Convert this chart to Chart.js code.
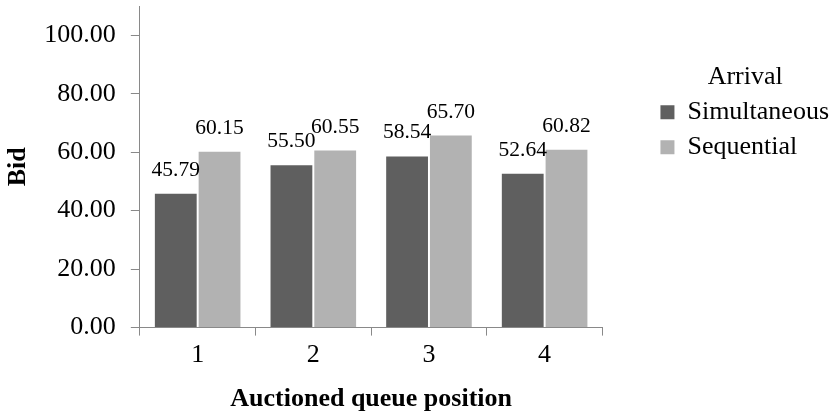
<!DOCTYPE html>
<html>
<head>
<meta charset="utf-8">
<script src="https://cdn.jsdelivr.net/npm/chart.js@4/dist/chart.umd.min.js"></script>
<style>
  html, body { margin: 0; padding: 0; background: #fff; }
  #chart { display: block; }
</style>
</head>
<body>
<canvas id="chart" width="839" height="416"></canvas>
<script>
// Data
const positions = ['1', '2', '3', '4'];
const simultaneous = [45.79, 55.50, 58.54, 52.64];
const sequential = [60.15, 60.55, 65.70, 60.82];
const yTickValues = [0, 20, 40, 60, 80, 100];
const yMax = 110;

const axisColor = '#898989';
const serif = "'Liberation Serif', 'Times New Roman', serif";

Chart.defaults.font.family = serif;
Chart.defaults.color = '#000';

// Value labels above the bars
const barLabels = {
  id: 'barLabels',
  afterDatasetsDraw(chart) {
    const ctx = chart.ctx;
    ctx.save();
    ctx.font = '21.5px ' + serif;
    ctx.fillStyle = '#000';
    ctx.textAlign = 'center';
    ctx.textBaseline = 'alphabetic';
    chart.data.datasets.forEach((ds, i) => {
      chart.getDatasetMeta(i).data.forEach((bar, j) => {
        ctx.fillText(ds.data[j].toFixed(2), bar.x, bar.y - 18);
      });
    });
    ctx.restore();
  }
};

new Chart(document.getElementById('chart'), {
  type: 'bar',
  data: {
    labels: positions,
    datasets: [
      {
        label: 'Simultaneous',
        data: simultaneous,
        backgroundColor: '#5f5f5f',
        categoryPercentage: 0.757,
        barPercentage: 0.955
      },
      {
        label: 'Sequential',
        data: sequential,
        backgroundColor: '#b2b2b2',
        categoryPercentage: 0.757,
        barPercentage: 0.955
      }
    ]
  },
  options: {
    responsive: false,
    animation: false,
    layout: { padding: { top: 6, left: 0, right: 0, bottom: 1 } },
    plugins: {
      tooltip: { enabled: false },
      legend: {
        position: 'right',
        align: 'start',
        maxWidth: 200,
        title: {
          display: true,
          text: 'Arrival',
          font: { size: 26 },
          padding: { top: 58, bottom: -5 }
        },
        labels: {
          boxWidth: 14,
          boxHeight: 14,
          padding: 9,
          font: { size: 26 }
        }
      }
    },
    scales: {
      x: {
        grid: { drawOnChartArea: false, offset: true, tickLength: 8, color: axisColor },
        border: { color: axisColor },
        ticks: { padding: 4, font: { size: 26 } },
        title: {
          display: true,
          text: 'Auctioned queue position',
          font: { size: 26, weight: 'bold' },
          padding: { top: 9, bottom: 0 }
        }
      },
      y: {
        min: 0,
        max: yMax,
        afterBuildTicks: s => { s.ticks = yTickValues.map(v => ({ value: v })); },
        afterFit: s => { s.paddingTop = 0; },
        grid: { drawOnChartArea: false, tickLength: 9, color: axisColor },
        border: { color: axisColor },
        ticks: {
          padding: 15,
          font: { size: 26 },
          callback: v => Number(v).toFixed(2)
        },
        title: {
          display: true,
          text: 'Bid',
          font: { size: 26, weight: 'bold' },
          padding: { top: 3, bottom: 7 }
        }
      },
      pad: {
        type: 'linear',
        position: 'right',
        grid: { display: false },
        border: { display: false },
        ticks: { display: false },
        afterFit: s => { s.width = 49; }
      }
    }
  },
  plugins: [barLabels]
});
</script>
</body>
</html>
